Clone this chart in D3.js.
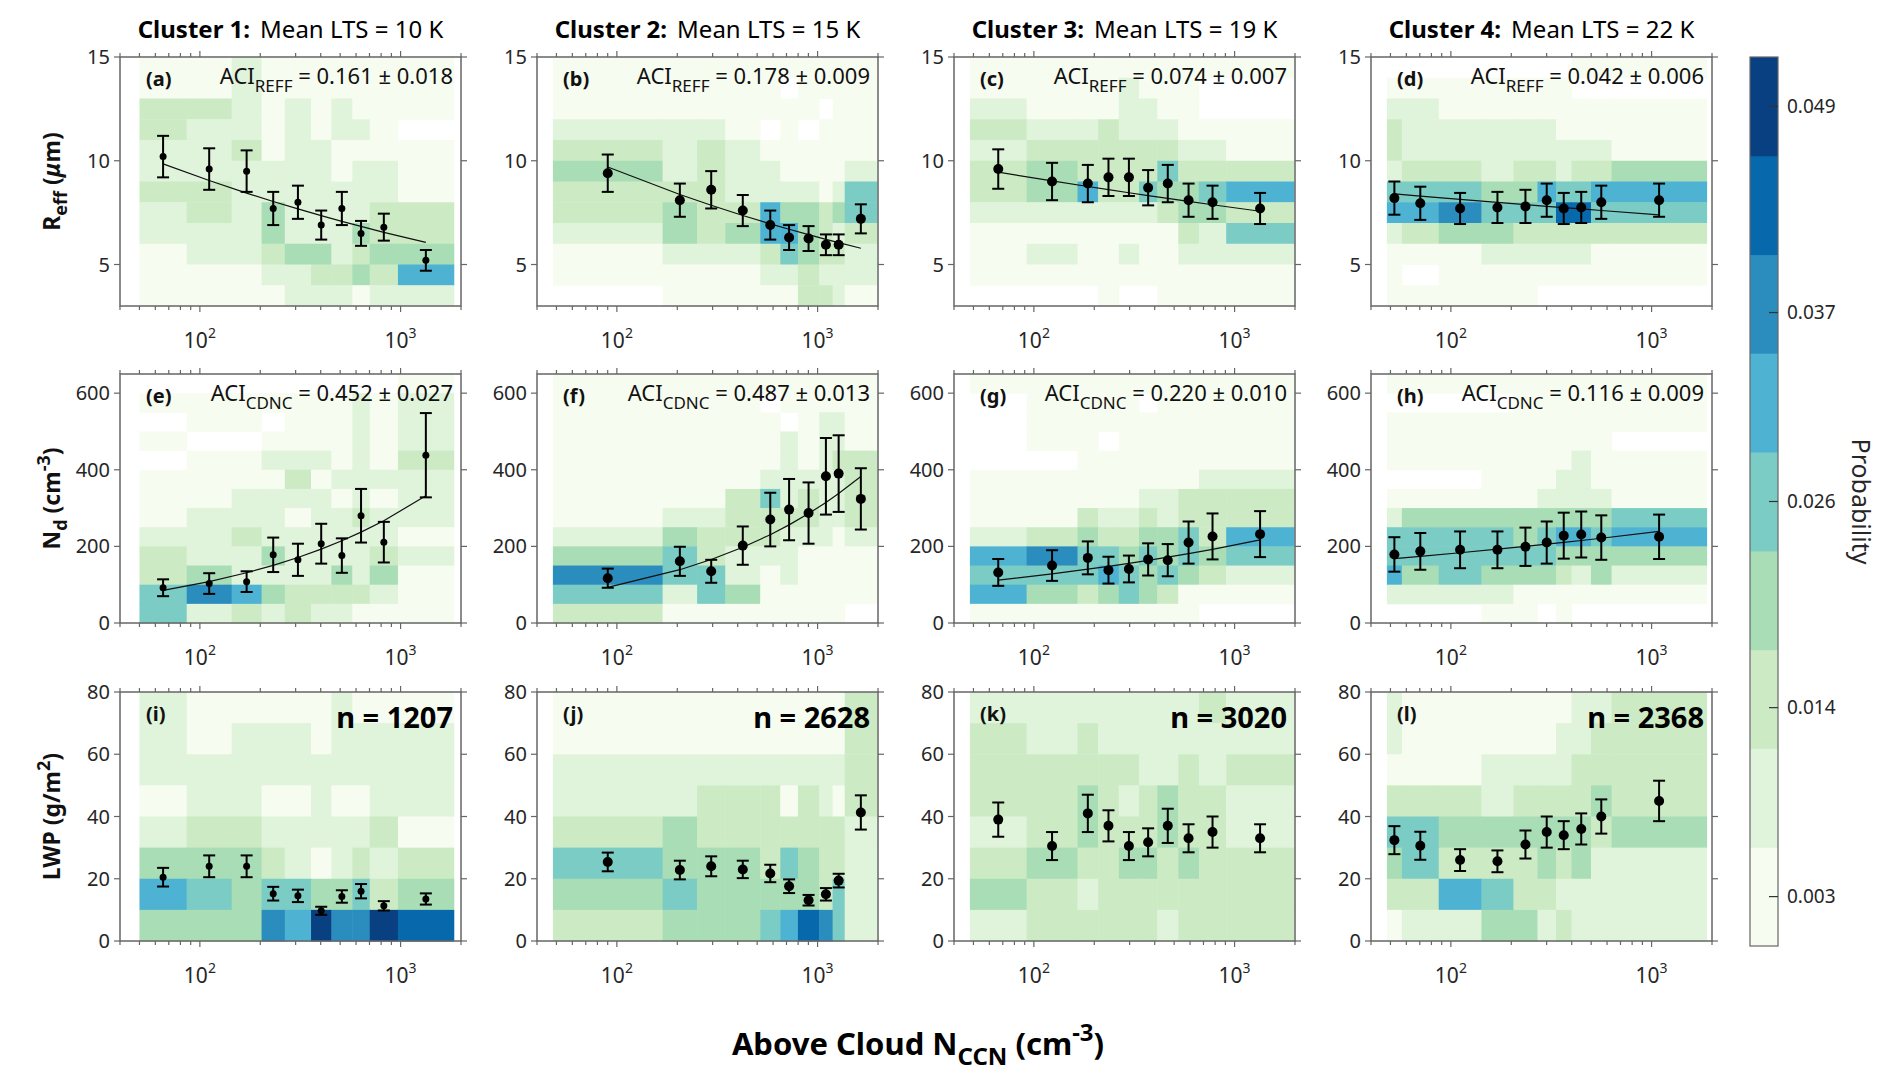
<!DOCTYPE html>
<html>
<head>
<meta charset="utf-8">
<script src="https://cdn.jsdelivr.net/npm/d3@7"></script>
<style>
  body { margin: 0; background: #fff; }
  svg { font-family: "Noto Sans", "Open Sans", sans-serif; }
</style>
</head>
<body>
<svg id="chart" width="1892" height="1091"></svg>
<script>
// ---- data ----
const clusters = ["Cluster 1:", "Cluster 2:", "Cluster 3:", "Cluster 4:"];
const meanLTS = [10, 15, 19, 22];
const nSamples = [1207, 2628, 3020, 2368];
const panelLetters = [["a", "b", "c", "d"], ["e", "f", "g", "h"], ["i", "j", "k", "l"]];

// N_CCN bin edges per cluster (cm^-3)
const binEdges = [
  [50, 86, 144, 203, 265, 358, 452, 575, 702, 970, 1841],
  [48, 169, 251, 347, 518, 652, 798, 1019, 1188, 1365, 1977],
  [48, 92, 165, 209, 265, 334, 412, 524, 664, 908, 1977],
  [48, 57, 87, 142, 205, 270, 334, 399, 499, 632, 1880]
];

const reffMean = [
  [10.2, 9.6, 9.5, 7.7, 8.0, 6.9, 7.7, 6.5, 6.8, 5.2],
  [9.4, 8.1, 8.6, 7.6, 6.9, 6.3, 6.25, 5.95, 5.95, 7.2],
  [9.6, 9.0, 8.9, 9.2, 9.2, 8.7, 8.9, 8.1, 8.0, 7.7],
  [8.2, 7.95, 7.7, 7.75, 7.8, 8.1, 7.7, 7.75, 8.0, 8.1]
];
const reffErr = [
  [1.0, 1.0, 1.0, 0.8, 0.8, 0.7, 0.8, 0.6, 0.65, 0.5],
  [0.9, 0.8, 0.9, 0.75, 0.7, 0.6, 0.6, 0.5, 0.5, 0.7],
  [0.95, 0.9, 0.9, 0.9, 0.9, 0.85, 0.9, 0.8, 0.8, 0.75],
  [0.8, 0.8, 0.75, 0.75, 0.8, 0.8, 0.75, 0.75, 0.8, 0.8]
];
const ndMean = [
  [92, 103, 108, 178, 165, 207, 176, 280, 211, 438],
  [117, 161, 135, 202, 270, 296, 287, 383, 390, 324],
  [132, 150, 170, 138, 141, 166, 164, 210, 226, 232],
  [179, 187, 191, 191, 199, 210, 228, 231, 223, 225]
];
const ndErr = [
  [22, 27, 27, 45, 42, 52, 45, 70, 53, 110],
  [25, 38, 30, 50, 70, 80, 80, 100, 100, 80],
  [35, 40, 43, 35, 35, 42, 42, 55, 60, 60],
  [45, 48, 48, 48, 50, 55, 60, 60, 58, 58]
];
const lwpMean = [
  [20.5, 24, 24, 15.2, 14.5, 9.7, 14.3, 16, 11.3, 13.5],
  [25.4, 22.8, 24, 23, 21.7, 17.6, 13.1, 15, 19.4, 41.3],
  [39, 30.5, 41, 37, 30.5, 31.7, 37, 33, 35, 33],
  [32.4, 30.6, 26, 25.6, 31, 35, 34, 36, 40, 45]
];
const lwpErr = [
  [3, 3.5, 3.5, 2.2, 2, 1.3, 2, 2.3, 1.5, 1.8],
  [3, 3, 3.2, 2.8, 2.8, 2.2, 1.7, 2, 2.2, 5.5],
  [5.5, 4.5, 6, 5, 4.5, 4.5, 5.5, 4.5, 5, 4.5],
  [4.5, 4.5, 3.5, 3.5, 4.5, 5, 4.5, 5, 5.5, 6.5]
];

const aciReff = [0.161, 0.178, 0.074, 0.042];
const aciReffUnc = ["0.018", "0.009", "0.007", "0.006"];
const aciCdnc = [0.452, 0.487, 0.220, 0.116];
const aciCdncUnc = ["0.027", "0.013", "0.010", "0.009"];
const fitReffStart = [9.85, 9.7, 9.45, 8.4];   // fit value at first bin
const fitNdStart = [85, 93, 112, 168];

// probability level (0-8, "." = empty) per cell; rows listed top to bottom
const heatReff = [
  ["0010000000","0010000000","2210101000","211010110.","1120110000","1111110110",
   "2211111110","1213111122","1113111322","0112331233","0001122325","0000111011"],
  ["0000000000","00000.0000","0000000.00","1110.0.000","2121000000","3121100001",
   "2221111014","2322533234","1323553212","0111243221","0000112111",".000002210"],
  ["0000000000","00001000..","10001100..","2112111000","1222222110","2322224222",
   "2352243345","1111112332","0000000214","0100100111","0000000000","...0..0000"],
  [".......000","0000000...","1100000000","2111110000","2111111110","1221221223",
   "4443354455","5564447744","1233222222","0001111100","0.00000000","00000....."]
];
const heatNd = [
  [".........0","0000000101",".00.000101","0..0000101",".001110102","0000201111","0011110101",
   "0111011211","1121111110","2113111121","2311113130","4653222210","4121211000"],
  ["0000000000","0000.00000","00000.0110","0000010110","0000010122","0000111112","0002412112",
   "0112222112","1322211101","3421110000","6441010000","4143000000","200000000."],
  ["0000000000",".0000.0000",".000000000",".00.000000","..00000000","0000000011","0000011222",
   "0021121222","1232233425","5644343434","4445434321","5323432000","00000000.."],
  ["0000000000","....000000","0000000000","000000000.","0000000100","...0001100","0000011110",
   "1333333334","4444345545","4444443333","5343332131","1111000000","...00.0..."]
];
const heatLwp = [
  ["1000001000","1011101111","1111111111","0110010011","1221111120","3332101212","5434433423","3336586687"],
  ["0000000002","0000000002","1111111112","1122202102","2322222221","4333243221","3433333241","2333457641"],
  ["1111111121","2121111111","2222211212","2232123221","1232223221","2322332322","3212222222","1222221222"],
  ["1000000112","1000001122","0001111222","2221222232","4433333323","3422232311","2254221111","0113312111"]
];

const reffBins = d3.range(3, 16, 1);   // 3..15
const ndBins = d3.range(0, 651, 50);   // 0..650
const lwpBins = d3.range(0, 81, 10);   // 0..80
const probTicks = [0.003, 0.014, 0.026, 0.037, 0.049];

// ---- layout ----
const svg = d3.select("#chart");
const colLeft = [120, 537, 954, 1371];
const rowTop = [57, 374, 692];
const pw = 341, ph = 249;
const levelColor = d3.scaleOrdinal(d3.range(9), d3.schemeGnBu[9]);
const x = d3.scaleLog().domain([40, 2000]);
const majorX = [100, 1000];
const minorX = [40, 50, 60, 70, 80, 90, 200, 300, 400, 500, 600, 700, 800, 900, 2000];
const axisColor = "#666";
const textColor = "#262626";

const rows = [
  { bins: reffBins, heat: heatReff, mean: reffMean, err: reffErr, domain: [3, 15], ticks: [5, 10, 15],
    fit: fitReffStart, aci: aciReff, unc: aciReffUnc, sub: "REFF", sign: -1 },
  { bins: ndBins, heat: heatNd, mean: ndMean, err: ndErr, domain: [0, 650], ticks: [0, 200, 400, 600],
    fit: fitNdStart, aci: aciCdnc, unc: aciCdncUnc, sub: "CDNC", sign: 1 },
  { bins: lwpBins, heat: heatLwp, mean: lwpMean, err: lwpErr, domain: [0, 80], ticks: [0, 20, 40, 60, 80] }
];

rows.forEach((row, r) => {
  clusters.forEach((_, c) => {
    const g = svg.append("g").attr("transform", `translate(${colLeft[c]},${rowTop[r]})`);
    const xs = x.copy().range([0, pw]);
    const y = d3.scaleLinear().domain(row.domain).range([ph, 0]);
    const edges = binEdges[c];
    const centers = d3.range(edges.length - 1).map(i => Math.sqrt(edges[i] * edges[i + 1]));

    // heatmap cells
    const nRows = row.bins.length - 1;
    const cells = [];
    row.heat[c].forEach((str, k) => {
      const lo = row.bins[nRows - 1 - k], hi = row.bins[nRows - k];
      str.split("").forEach((ch, i) => {
        if (ch !== ".") cells.push({ x0: edges[i], x1: edges[i + 1], y0: lo, y1: hi, lvl: +ch });
      });
    });
    g.selectAll("rect.cell").data(cells).enter().append("rect")
      .attr("x", d => xs(d.x0)).attr("width", d => xs(d.x1) - xs(d.x0) + 0.5)
      .attr("y", d => y(d.y1)).attr("height", d => y(d.y0) - y(d.y1) + 0.5)
      .attr("fill", d => levelColor(d.lvl));

    // fit line
    if (row.fit) {
      const a = row.fit[c], b = row.sign * row.aci[c], x0 = centers[0];
      const fitPts = centers.map(cx => [cx, a * Math.pow(cx / x0, b)]);
      g.append("path").datum(fitPts)
        .attr("fill", "none").attr("stroke", "#111").attr("stroke-width", 1.2)
        .attr("d", d3.line().x(d => xs(d[0])).y(d => y(d[1])));
    }

    // error bars + points
    const pts = centers.map((cx, i) => ({ cx, m: row.mean[c][i], e: row.err[c][i] }));
    const eb = g.append("g").attr("stroke", "#000").attr("stroke-width", 2);
    pts.forEach(p => {
      eb.append("line").attr("x1", xs(p.cx)).attr("x2", xs(p.cx)).attr("y1", y(p.m - p.e)).attr("y2", y(p.m + p.e));
      [p.m - p.e, p.m + p.e].forEach(v =>
        eb.append("line").attr("x1", xs(p.cx) - 6).attr("x2", xs(p.cx) + 6).attr("y1", y(v)).attr("y2", y(v)));
    });
    g.selectAll("circle.pt").data(pts).enter().append("circle")
      .attr("cx", d => xs(d.cx)).attr("cy", d => y(d.m)).attr("r", c === 0 ? 3.5 : 5).attr("fill", "#000");

    // frame and ticks (outward, on all sides)
    g.append("rect").attr("width", pw).attr("height", ph)
      .attr("fill", "none").attr("stroke", axisColor).attr("stroke-width", 1.5);
    const tk = g.append("g").attr("stroke", axisColor).attr("stroke-width", 1.2);
    [...majorX.map(v => [v, 6]), ...minorX.map(v => [v, 4])].forEach(([v, len]) => {
      tk.append("line").attr("x1", xs(v)).attr("x2", xs(v)).attr("y1", ph).attr("y2", ph + len);
      tk.append("line").attr("x1", xs(v)).attr("x2", xs(v)).attr("y1", 0).attr("y2", -len);
    });
    row.ticks.forEach(v => {
      tk.append("line").attr("x1", 0).attr("x2", -6).attr("y1", y(v)).attr("y2", y(v));
      tk.append("line").attr("x1", pw).attr("x2", pw + 6).attr("y1", y(v)).attr("y2", y(v));
      g.append("text").attr("x", -10).attr("y", y(v)).attr("dy", "0.35em")
        .attr("text-anchor", "end").attr("font-size", 20).attr("fill", textColor).text(v);
    });
    majorX.forEach(v => {
      const t = g.append("text").attr("x", xs(v)).attr("y", ph + 42)
        .attr("text-anchor", "middle").attr("font-size", 21).attr("fill", textColor);
      t.append("tspan").text("10");
      t.append("tspan").attr("dy", -10).attr("font-size", 14).text(Math.log10(v));
    });

    // panel label
    g.append("text").attr("x", 26).attr("y", 29).attr("font-size", 20).attr("font-weight", 700)
      .attr("fill", "#111").text(`(${panelLetters[r][c]})`);

    if (row.aci) {
      const t = g.append("text").attr("x", pw - 8).attr("y", 27).attr("text-anchor", "end")
        .attr("font-size", 22).attr("fill", "#111");
      t.append("tspan").text("ACI");
      t.append("tspan").attr("dy", 8).attr("font-size", 17).text(row.sub);
      t.append("tspan").attr("dy", -8).text(` = ${row.aci[c].toFixed(3)} ± ${row.unc[c]}`);
    } else {
      g.append("text").attr("x", pw - 8).attr("y", 36).attr("text-anchor", "end")
        .attr("font-size", 29).attr("font-weight", 700).attr("fill", "#000").text(`n = ${nSamples[c]}`);
    }

    // column titles
    if (r === 0) {
      const t = svg.append("text").attr("x", colLeft[c] + pw / 2).attr("y", 38)
        .attr("text-anchor", "middle").attr("font-size", 24).attr("fill", "#000");
      t.append("tspan").attr("font-weight", 700).text(clusters[c]);
      t.append("tspan").attr("dx", 10).text(`Mean LTS = ${meanLTS[c]} K`);
    }
  });
});

// y-axis titles
const yTitles = [
  t => { t.append("tspan").text("R"); t.append("tspan").attr("dy", 7).attr("font-size", 18).text("eff");
         t.append("tspan").attr("dy", -7).text(" ("); t.append("tspan").attr("font-style", "italic").text("μ");
         t.append("tspan").text("m)"); },
  t => { t.append("tspan").text("N"); t.append("tspan").attr("dy", 7).attr("font-size", 18).text("d");
         t.append("tspan").attr("dy", -7).text(" (cm"); t.append("tspan").attr("dy", -10).attr("font-size", 18).text("-3");
         t.append("tspan").attr("dy", 10).text(")"); },
  t => { t.append("tspan").text("LWP (g/m"); t.append("tspan").attr("dy", -10).attr("font-size", 18).text("2");
         t.append("tspan").attr("dy", 10).text(")"); }
];
yTitles.forEach((fn, r) => {
  const cy = rowTop[r] + ph / 2;
  const t = svg.append("text").attr("transform", `translate(60,${cy}) rotate(-90)`)
    .attr("text-anchor", "middle").attr("font-size", 23).attr("font-weight", 700).attr("fill", "#111");
  fn(t);
});

// x-axis title
{
  const t = svg.append("text").attr("x", 918).attr("y", 1055).attr("text-anchor", "middle")
    .attr("font-size", 31).attr("font-weight", 700).attr("fill", "#000");
  t.append("tspan").text("Above Cloud N");
  t.append("tspan").attr("dy", 10).attr("font-size", 24).text("CCN");
  t.append("tspan").attr("dy", -10).text(" (cm");
  t.append("tspan").attr("dy", -14).attr("font-size", 24).text("-3");
  t.append("tspan").attr("dy", 14).text(")");
}

// colorbar
const cbX = 1750, cbW = 28, cbTop = 57, cbBot = 946;
const lvlY = d3.scaleLinear().domain([0, 9]).range([cbBot, cbTop]);
const cb = svg.append("g");
cb.selectAll("rect").data(d3.range(9)).enter().append("rect")
  .attr("x", cbX).attr("width", cbW).attr("y", d => lvlY(d + 1)).attr("height", d => lvlY(d) - lvlY(d + 1) + 0.5)
  .attr("fill", d => levelColor(d));
cb.append("rect").attr("x", cbX).attr("y", cbTop).attr("width", cbW).attr("height", cbBot - cbTop)
  .attr("fill", "none").attr("stroke", axisColor).attr("stroke-width", 1.2);
const probY = d3.scaleLinear().domain([0.003, 0.049]).range([lvlY(0.5), lvlY(8.5)]);
probTicks.forEach(p => {
  cb.append("line").attr("x1", cbX + cbW - 9).attr("x2", cbX + cbW).attr("y1", probY(p)).attr("y2", probY(p))
    .attr("stroke", "#333").attr("stroke-width", 1.2);
  cb.append("text").attr("x", cbX + cbW + 9).attr("y", probY(p)).attr("dy", "0.35em")
    .attr("font-size", 19).attr("fill", textColor).text(p.toFixed(3));
});
svg.append("text").attr("transform", `translate(1852,${(cbTop + cbBot) / 2}) rotate(90)`)
  .attr("text-anchor", "middle").attr("font-size", 25).attr("fill", textColor).text("Probability");
</script>
</body>
</html>
